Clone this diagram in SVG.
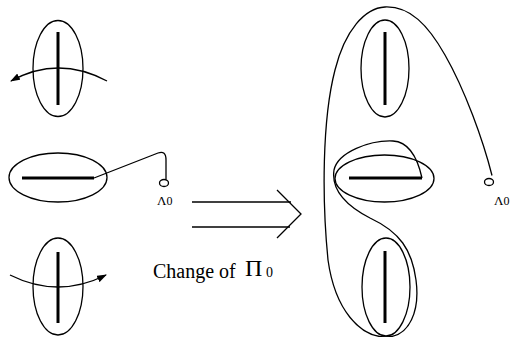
<svg xmlns="http://www.w3.org/2000/svg" width="511" height="337" viewBox="0 0 511 337">
<defs>
<marker id="ah" markerWidth="10" markerHeight="7" refX="9" refY="3.5" orient="auto" markerUnits="userSpaceOnUse">
<path d="M0,0 L10,3.5 L0,7 Z" fill="#000"/>
</marker>
<style>
.thin{fill:none;stroke:#000;stroke-width:1.3}
.thick{fill:none;stroke:#000;stroke-width:3}
.t{font-family:'Liberation Serif','Times New Roman',serif;fill:#000}
</style>
</defs>
<rect width="511" height="337" fill="#fff"/>
<g id="left-top">
<ellipse class="thin" cx="58" cy="68.5" rx="25" ry="48"/>
<line class="thick" x1="58" y1="32" x2="58" y2="105"/>
</g>
<g id="left-middle">
<ellipse class="thin" cx="58" cy="177.5" rx="49" ry="24.5"/>
<line class="thick" x1="22" y1="178" x2="94" y2="178"/>
</g>
<g id="left-bottom">
<ellipse class="thin" cx="58" cy="286.5" rx="25" ry="48.5"/>
<line class="thick" x1="58" y1="252" x2="58" y2="323"/>
</g>
<g id="lambda-left">
<ellipse class="thin" cx="164" cy="183" rx="4.5" ry="3.5"/>
<text class="t" x="157" y="205" font-size="13">Λ<tspan font-size="12">0</tspan></text>
</g>
<g id="right-top">
<ellipse class="thin" cx="385" cy="68.5" rx="24" ry="48.5"/>
<line class="thick" x1="385" y1="32" x2="385" y2="105"/>
</g>
<g id="right-middle">
<ellipse class="thin" cx="384.5" cy="178.5" rx="49.5" ry="23.5"/>
<line class="thick" x1="349" y1="178" x2="422" y2="178"/>
</g>
<g id="right-bottom">
<ellipse class="thin" cx="386" cy="287" rx="24" ry="49"/>
<line class="thick" x1="385" y1="251" x2="385" y2="323"/>
</g>
<g id="lambda-right">
<ellipse class="thin" cx="489" cy="182" rx="4.5" ry="3.5"/>
<text class="t" x="494" y="205" font-size="13">Λ<tspan font-size="12">0</tspan></text>
</g>
<g id="label">
<text class="t" x="153" y="278" font-size="20">Change of</text>
<text class="t" x="245" y="276" font-size="24">Π</text>
<text class="t" x="266" y="277" font-size="14">0</text>
</g>
<g id="connectors">
<path class="thin" d="M107,81 Q58,55 11,81" marker-end="url(#ah)"/>
<path class="thin" d="M10,275 Q58,299 106,275" marker-end="url(#ah)"/>
<path class="thin" d="M94,178 L158,153 Q166,150 166,160 L166,179.5"/>
<line class="thin" x1="192" y1="202" x2="291" y2="202"/>
<line class="thin" x1="192" y1="227" x2="290" y2="227"/>
<path class="thin" stroke-width="1.6" d="M277,190 L301,214 L277,238"/>
<path class="thin" d="M422,178 C418,160 410,142 393,141 C370,140 338,152 334,170 C331,190 345,205 370,218 C400,232 412,250 416,280 C420,310 410,337 386,337 C360,337 335,310 328,260 C322,200 322,120 335,70 C345,30 365,8 385,7 C410,6 428,25 445,55 C465,90 483,140 492,175.5"/>
</g>
</svg>
